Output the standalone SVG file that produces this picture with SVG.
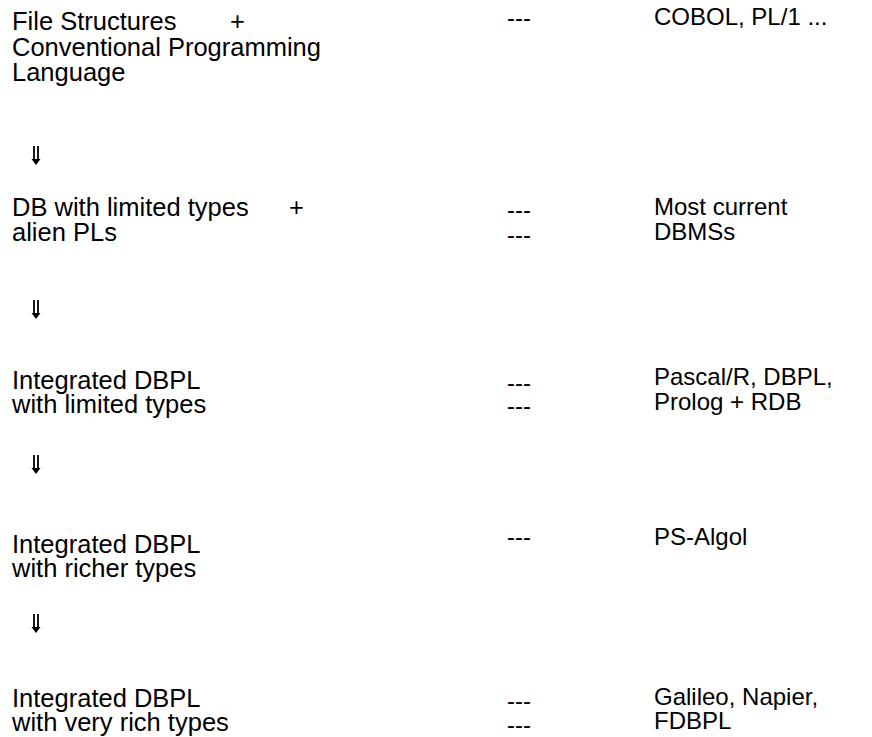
<svg xmlns="http://www.w3.org/2000/svg" width="872" height="737" viewBox="0 0 872 737">
<style>
text{font-family:"Liberation Sans",Arial,sans-serif;font-size:24px;fill:#000}
.l{font-size:25.5px}
.c{stroke:#000;stroke-width:1.8;fill:none}
.h{fill:#000}
</style>
<rect width="872" height="737" fill="#fff"/>
<g id="connectors">
<g transform="translate(36,146)"><path class="c" d="M-2,0V15M2,0V15"/><path class="h" d="M-4.5,13L4.5,13L0,19Z"/></g>
<g transform="translate(36,300)"><path class="c" d="M-2,0V15M2,0V15"/><path class="h" d="M-4.5,13L4.5,13L0,19Z"/></g>
<g transform="translate(36,455)"><path class="c" d="M-2,0V15M2,0V15"/><path class="h" d="M-4.5,13L4.5,13L0,19Z"/></g>
<g transform="translate(36,614)"><path class="c" d="M-2,0V15M2,0V15"/><path class="h" d="M-4.5,13L4.5,13L0,19Z"/></g>
</g>
<g id="n1">
<text class="l" x="12" y="30">File Structures</text>
<text class="l" x="230" y="30">+</text>
<text class="l" x="12" y="56">Conventional Programming</text>
<text class="l" x="12" y="81">Language</text>
<text x="507" y="26">---</text>
<text x="654" y="25">COBOL, PL/1 ...</text>
</g>
<g id="n2">
<text class="l" x="12" y="216">DB with limited types</text>
<text class="l" x="289" y="216">+</text>
<text class="l" x="12" y="241">alien PLs</text>
<text x="507" y="218">---</text>
<text x="507" y="243">---</text>
<text x="654" y="215">Most current</text>
<text x="654" y="240">DBMSs</text>
</g>
<g id="n3">
<text class="l" x="12" y="389">Integrated DBPL</text>
<text class="l" x="12" y="413">with limited types</text>
<text x="507" y="391">---</text>
<text x="507" y="414">---</text>
<text x="654" y="385">Pascal/R, DBPL,</text>
<text x="654" y="410">Prolog + RDB</text>
</g>
<g id="n4">
<text class="l" x="12" y="553">Integrated DBPL</text>
<text class="l" x="12" y="577">with richer types</text>
<text x="507" y="545">---</text>
<text x="654" y="545">PS-Algol</text>
</g>
<g id="n5">
<text class="l" x="12" y="707">Integrated DBPL</text>
<text class="l" x="12" y="731">with very rich types</text>
<text x="507" y="709">---</text>
<text x="507" y="733">---</text>
<text x="654" y="705">Galileo, Napier,</text>
<text x="654" y="729">FDBPL</text>
</g>
</svg>
